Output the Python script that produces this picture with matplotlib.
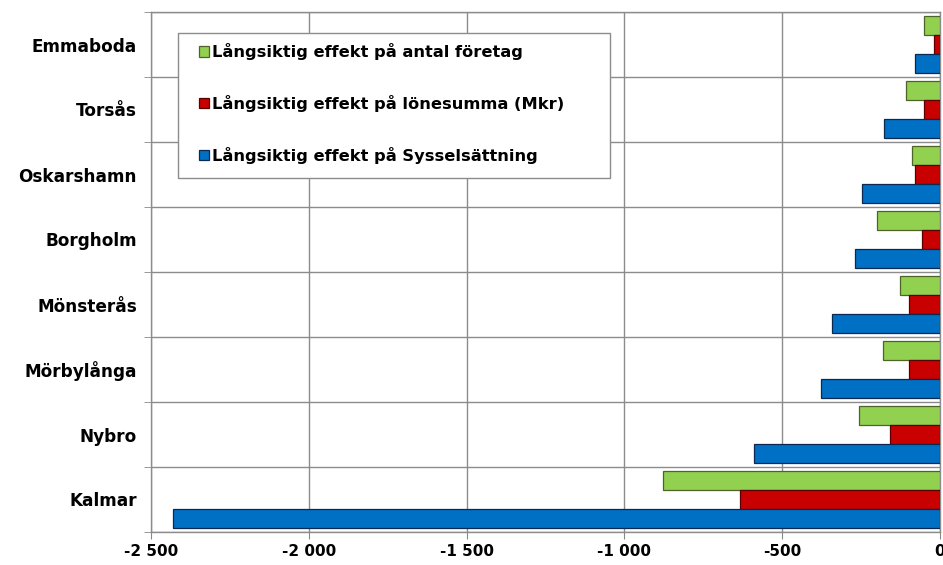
import matplotlib
matplotlib.use("Agg")
import matplotlib.pyplot as plt
from matplotlib.patches import Rectangle
import numpy as np

plt.rcParams['font.family'] = ['DejaVu Sans']

# Municipalities, bottom to top
kommuner = ["Kalmar", "Nybro", "Mörbylånga", "Mönsterås", "Borgholm",
            "Oskarshamn", "Torsås", "Emmaboda"]

# Long-term effects per municipality
foretag = [-878, -258, -181, -128, -200, -90, -108, -50]
lonesumma = [-635, -160, -99, -98, -57, -79, -50, -20]
sysselsattning = [-2430, -589, -378, -342, -269, -247, -177, -79]

serie_namn = ["Långsiktig effekt på antal företag",
              "Långsiktig effekt på lönesumma (Mkr)",
              "Långsiktig effekt på Sysselsättning"]

x_ticks = [-2500, -2000, -1500, -1000, -500, 0]
x_ticklabels = ["-2 500", "-2 000", "-1 500", "-1 000", "-500", "0"]

W, H = 943, 565
fig = plt.figure(figsize=(W / 100, H / 100), dpi=100)
ax = fig.add_axes([151 / W, 33 / H, 789 / W, 520 / H])

y = np.arange(len(kommuner))
h = 0.29
ax.barh(y + h, foretag, height=h, color="#92D050", edgecolor="#4F6228",
        linewidth=0.9, label=serie_namn[0], zorder=3)
ax.barh(y, lonesumma, height=h, color="#C80000", edgecolor="#5A0000",
        linewidth=0.9, label=serie_namn[1], zorder=3)
ax.barh(y - h, sysselsattning, height=h, color="#0070C4", edgecolor="#0A2850",
        linewidth=0.9, label=serie_namn[2], zorder=3)

ax.set_xlim(-2500, 0)
ax.set_ylim(-0.5, len(kommuner) - 0.5)

ax.set_xticks(x_ticks)
ax.set_xticklabels(x_ticklabels, fontsize=11, fontweight="bold")
ax.set_yticks(y)
ax.set_yticklabels(kommuner, fontsize=12.2, fontweight="bold")
ax.set_yticks(np.arange(-0.5, len(kommuner)), minor=True)

ax.tick_params(axis="y", which="major", length=0, pad=10)
ax.tick_params(axis="y", which="minor", length=5, color="#888888", direction="out")
ax.tick_params(axis="x", which="major", length=5, color="#888888", pad=4)

ax.grid(axis="x", which="major", color="#8c8c8c", linewidth=1.0, zorder=0)
ax.grid(axis="y", which="minor", color="#8c8c8c", linewidth=1.0, zorder=0)
ax.set_axisbelow(True)

for s in ax.spines.values():
    s.set_color("#8c8c8c")
    s.set_linewidth(1.0)

# Legend box drawn separately so it can be wider than its entries
box = Rectangle((178 / W, 1 - 178 / H), 432 / W, 145 / H,
                transform=fig.transFigure, facecolor="white",
                edgecolor="#8c8c8c", linewidth=1.0, zorder=4)
ax.add_artist(box)

leg = ax.legend(loc="upper left", bbox_to_anchor=(199 / W, 1 - 43 / H),
                bbox_transform=fig.transFigure,
                prop={"weight": "bold", "size": 11.7},
                frameon=False,
                handlelength=0.62, handleheight=0.62, handletextpad=0.2,
                labelspacing=2.15, borderpad=0, borderaxespad=0)
leg.set_zorder(5)

fig.savefig("out.png", dpi=100)
